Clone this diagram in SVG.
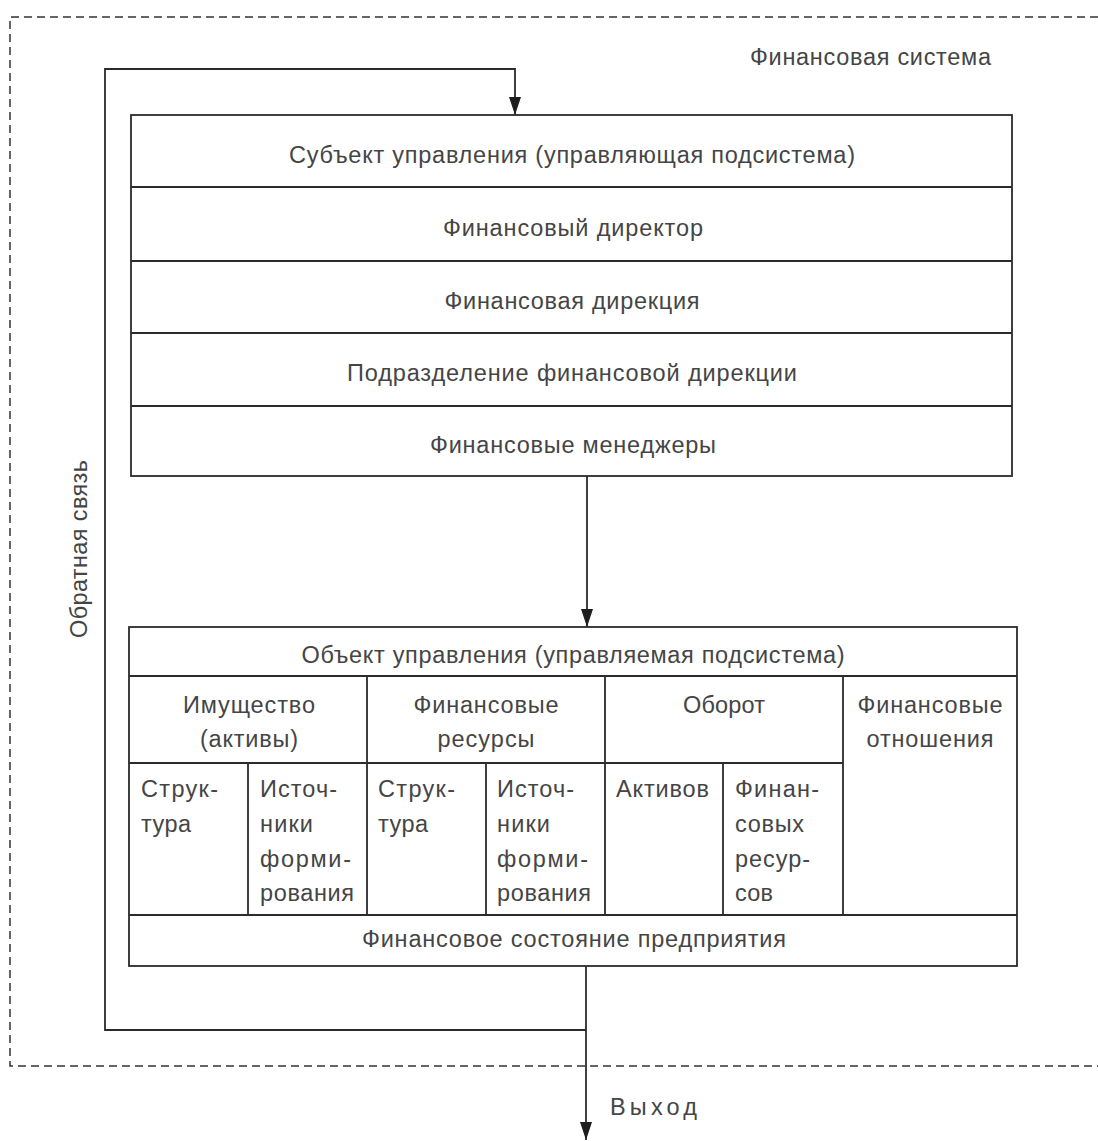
<svg xmlns="http://www.w3.org/2000/svg" width="1098" height="1141" viewBox="0 0 1098 1141">
<style>
text{font-family:"Liberation Sans",Arial,sans-serif;font-size:23.5px;fill:#454545}
.c{text-anchor:middle}
.box{fill:none;stroke:#2b2b2b;stroke-width:1.8}
.ln{stroke:#2b2b2b;stroke-width:1.8;fill:none}
.dash{fill:none;stroke:#333;stroke-width:1.5;stroke-dasharray:8 5}
</style>
<defs>
<marker id="arr" viewBox="0 0 18 12" refX="18" refY="6" markerWidth="18" markerHeight="12" markerUnits="userSpaceOnUse" orient="auto">
<path d="M0,0 L18,6 L0,12 Z" fill="#1e1e1e"/>
</marker>
</defs>
<rect width="1098" height="1141" fill="#fff"/>

<g id="system">
<path class="dash" d="M1098,17 H10 V1066 H1098"/>
<text x="750" y="65" textLength="241">Финансовая система</text>
</g>

<g id="subject">
<rect class="box" x="131" y="115" width="881" height="361"/>
<path class="ln" d="M131,187 H1012 M131,261 H1012 M131,333 H1012 M131,406 H1012"/>
<text class="c" x="572" y="163" textLength="566">Субъект управления (управляющая подсистема)</text>
<text class="c" x="573" y="236" textLength="260">Финансовый директор</text>
<text class="c" x="572" y="309" textLength="255">Финансовая дирекция</text>
<text class="c" x="572" y="381" textLength="450">Подразделение финансовой дирекции</text>
<text class="c" x="573" y="453" textLength="286">Финансовые менеджеры</text>
</g>

<g id="object">
<rect class="box" x="129" y="627" width="888" height="339"/>
<path class="ln" d="M129,676 H1017 M129,763 H843 M129,915 H1017 M248,763 V915 M367,676 V915 M486,763 V915 M605,676 V915 M723,763 V915 M843,676 V915"/>
<text class="c" x="573" y="663" textLength="543">Объект управления (управляемая подсистема)</text>
<text class="c" x="249" y="713" textLength="132">Имущество</text>
<text class="c" x="249" y="747" textLength="98">(активы)</text>
<text class="c" x="486" y="713" textLength="145">Финансовые</text>
<text class="c" x="486" y="747" textLength="97">ресурсы</text>
<text class="c" x="724" y="713" textLength="82">Оборот</text>
<text class="c" x="930" y="713" textLength="145">Финансовые</text>
<text class="c" x="930" y="747" textLength="127">отношения</text>
<text x="141" y="797" textLength="77">Струк-</text>
<text x="141" y="832" textLength="50">тура</text>
<text x="260" y="797" textLength="77">Источ-</text>
<text x="260" y="832" textLength="53">ники</text>
<text x="260" y="867" textLength="91">форми-</text>
<text x="260" y="901" textLength="94">рования</text>
<text x="378" y="797" textLength="77">Струк-</text>
<text x="378" y="832" textLength="50">тура</text>
<text x="497" y="797" textLength="77">Источ-</text>
<text x="497" y="832" textLength="53">ники</text>
<text x="497" y="867" textLength="91">форми-</text>
<text x="497" y="901" textLength="94">рования</text>
<text x="616" y="797" textLength="93">Активов</text>
<text x="735" y="797" textLength="84">Финан-</text>
<text x="735" y="832" textLength="69">совых</text>
<text x="735" y="867" textLength="75">ресур-</text>
<text x="735" y="901" textLength="38">сов</text>
<text class="c" x="574" y="947" textLength="424">Финансовое состояние предприятия</text>
</g>

<g id="connectors">
<path class="ln" d="M587,476 V627" marker-end="url(#arr)"/>
<path class="ln" d="M586,966 V1140" marker-end="url(#arr)"/>
<path class="ln" d="M586,1030 H105 V69 H515 V115" marker-end="url(#arr)"/>
</g>

<g id="labels">
<text x="610" y="1115" textLength="87">Выход</text>
<text class="c" transform="translate(87,549) rotate(-90)" x="0" y="0" textLength="178">Обратная связь</text>
</g>
</svg>
